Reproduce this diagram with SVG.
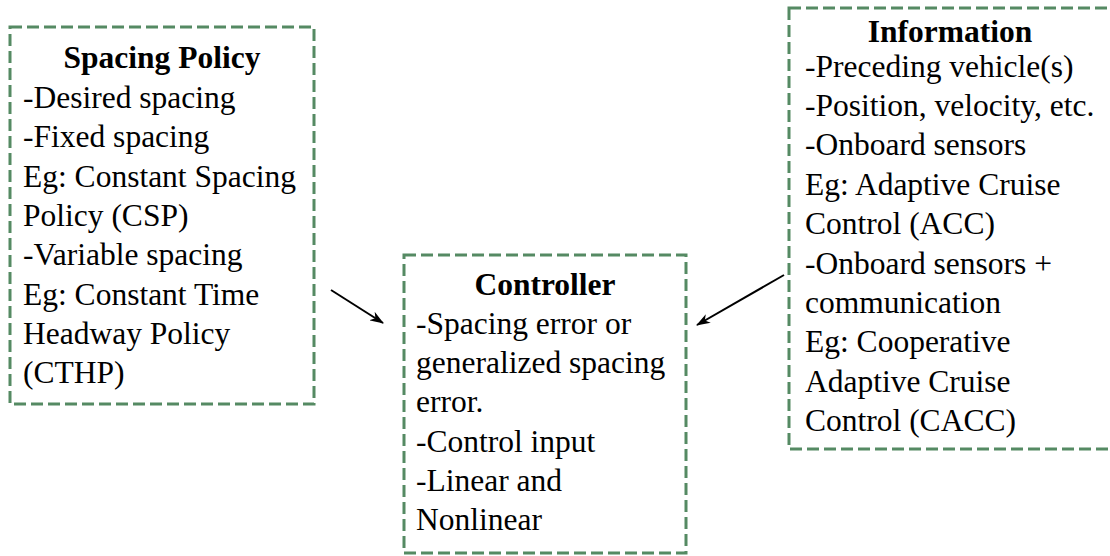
<svg xmlns="http://www.w3.org/2000/svg" width="1110" height="556" viewBox="0 0 1110 556">
<defs>
<style>
.box{fill:#fff;stroke:#558a63;stroke-width:3;stroke-dasharray:12 5}
.t{font-size:31.5px;fill:#000}
.h{font-weight:bold;text-anchor:middle}
.c{stroke:#000;stroke-width:2;fill:none;marker-end:url(#ah)}
</style>
<marker id="ah" viewBox="0 0 14 10" refX="13" refY="5" markerWidth="14" markerHeight="10" markerUnits="userSpaceOnUse" orient="auto">
<path d="M0,0 L14,5 L0,10 L4,5 Z" fill="#000"/>
</marker>
</defs>
<rect width="1110" height="556" fill="#fff"/>
<g font-family="Liberation Serif, Times New Roman, serif">
<g id="spacing-policy">
<rect class="box" x="10" y="27" width="304" height="377"/>
<text class="t h" x="162" y="68">Spacing Policy</text>
<text class="t" x="23" y="108">-Desired spacing</text>
<text class="t" x="23" y="147">-Fixed spacing</text>
<text class="t" x="23" y="187">Eg: Constant Spacing</text>
<text class="t" x="23" y="226">Policy (CSP)</text>
<text class="t" x="23" y="265">-Variable spacing</text>
<text class="t" x="23" y="305">Eg: Constant Time</text>
<text class="t" x="23" y="344">Headway Policy</text>
<text class="t" x="23" y="383">(CTHP)</text>
</g>
<g id="controller">
<rect class="box" x="404" y="255" width="282" height="298"/>
<text class="t h" x="545" y="295">Controller</text>
<text class="t" x="416" y="334">-Spacing error or</text>
<text class="t" x="416" y="373">generalized spacing</text>
<text class="t" x="416" y="412">error.</text>
<text class="t" x="416" y="452">-Control input</text>
<text class="t" x="416" y="491">-Linear and</text>
<text class="t" x="416" y="530">Nonlinear</text>
</g>
<g id="information">
<rect class="box" x="789" y="8" width="330" height="441"/>
<text class="t h" x="950" y="42">Information</text>
<text class="t" x="805" y="77">-Preceding vehicle(s)</text>
<text class="t" x="805" y="116">-Position, velocity, etc.</text>
<text class="t" x="805" y="155">-Onboard sensors</text>
<text class="t" x="805" y="195">Eg: Adaptive Cruise</text>
<text class="t" x="805" y="234">Control (ACC)</text>
<text class="t" x="805" y="274">-Onboard sensors +</text>
<text class="t" x="805" y="313">communication</text>
<text class="t" x="805" y="352">Eg: Cooperative</text>
<text class="t" x="805" y="392">Adaptive Cruise</text>
<text class="t" x="805" y="431">Control (CACC)</text>
</g>
</g>
<g id="connectors">
<line class="c" x1="331" y1="290" x2="383" y2="323"/>
<line class="c" x1="784" y1="275" x2="697" y2="325"/>
</g>
</svg>
